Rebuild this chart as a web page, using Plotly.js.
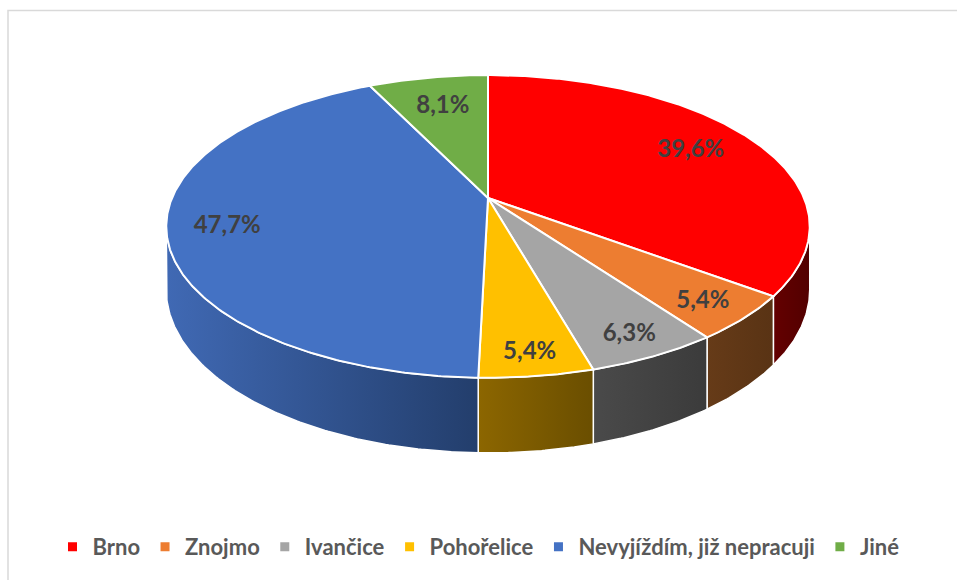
<!DOCTYPE html>
<html><head><meta charset="utf-8">
<script src="https://cdn.plot.ly/plotly-3.0.1.min.js"></script>
<style>html,body{margin:0;padding:0;background:#fff;}</style>
</head><body>
<div id="chart" style="width:957px;height:580px"></div>
<script>
// ---- data ----
const categories = ['Brno','Znojmo','Ivančice','Pohořelice','Nevyjíždím, již nepracuji','Jiné'];
const values = [39.6, 5.4, 6.3, 5.4, 47.7, 8.1];
const valueLabels = ['39,6%','5,4%','6,3%','5,4%','47,7%','8,1%'];
const topColors = ['#FF0000','#ED7D31','#A5A5A5','#FFC000','#4472C4','#70AD47'];
const sideColors = [['#640000','#520000'],['#663b18','#593314'],['#4a4a4a','#3b3b3b'],['#8c6600','#6a4e00'],['#4069b4','#233e6c'],['#3f6a28','#355a22']];

// ---- 3D pie geometry (perspective ellipse) ----
const CX=488, CY=198, A=316, B=146, P=0.188, H=61;
function proj(r, th){
  const X=r*Math.sin(th), Z=r*Math.cos(th), d=1+P*Z;
  return [CX+A*X/d, CY-B*Z/d, d];
}
const total = values.reduce((s,v)=>s+v,0);
const starts=[], ends=[];
let cum=0;
values.forEach(v=>{ starts.push(cum/total*2*Math.PI); cum+=v; ends.push(cum/total*2*Math.PI); });

function arc(t1,t2){
  const n=Math.max(4,Math.ceil((t2-t1)/(Math.PI/360)));
  const pts=[];
  for(let k=0;k<=n;k++){ const t=t1+(t2-t1)*k/n; pts.push(proj(1,t)); }
  return pts;
}

const traces=[];
// side walls (visible front part)
const thR=Math.acos(-P), thL=2*Math.PI-Math.acos(-P);
values.forEach((v,i)=>{
  const a=Math.max(starts[i],thR), b=Math.min(ends[i],thL);
  if(b<=a) return;
  const top=arc(a,b);
  const xs=[],ys=[];
  top.forEach(p=>{xs.push(p[0]);ys.push(p[1]);});
  for(let k=top.length-1;k>=0;k--){ const p=top[k]; xs.push(p[0]); ys.push(p[1]+H/p[2]); }
  xs.push(xs[0]); ys.push(ys[0]);
  traces.push({type:'scatter',mode:'lines',x:xs,y:ys,fill:'toself',
    fillgradient:{type:'horizontal',colorscale:[[0,sideColors[i][0]],[1,sideColors[i][1]]]},
    line:{color:'#ffffff',width:1.5},showlegend:false,hoverinfo:'skip'});
});
// top faces
values.forEach((v,i)=>{
  const pts=arc(starts[i],ends[i]);
  const xs=[CX],ys=[CY];
  pts.forEach(p=>{xs.push(p[0]);ys.push(p[1]);});
  xs.push(CX); ys.push(CY);
  traces.push({type:'scatter',mode:'lines',x:xs,y:ys,fill:'toself',fillcolor:topColors[i],
    line:{color:'#ffffff',width:2},showlegend:false,hoverinfo:'skip'});
});
// data labels
const lx=[],ly=[];
values.forEach((v,i)=>{
  const m=(starts[i]+ends[i])/2;
  const r=0.8-0.08*Math.cos(m);
  const p=proj(r,m);
  lx.push(p[0]); ly.push(p[1]+(Math.cos(m)<0?3:0));
});
traces.push({type:'scatter',mode:'text',x:lx,y:ly,text:valueLabels,textposition:'middle center',
  textfont:{family:'Lato, "Open Sans", sans-serif',size:24,color:'#404040',weight:'bold'},
  showlegend:false,hoverinfo:'skip'});
// legend entries
categories.forEach((c,i)=>{
  traces.push({type:'scatter',mode:'markers',x:[null],y:[null],name:c,
    marker:{symbol:'square',size:9,color:topColors[i]},showlegend:true});
});

const layout={
  width:957,height:580,margin:{l:0,r:0,t:0,b:0},
  paper_bgcolor:'#ffffff',plot_bgcolor:'#ffffff',
  xaxis:{range:[0,957],visible:false,fixedrange:true},
  yaxis:{range:[580,0],visible:false,fixedrange:true},
  hovermode:false,
  showlegend:true,
  legend:{orientation:'h',x:0.5,xanchor:'center',y:1-547/580,yanchor:'middle',
    font:{family:'Lato, "Open Sans", sans-serif',size:22,color:'#595959',weight:'bold'},
    traceorder:'normal',itemwidth:30,bgcolor:'rgba(0,0,0,0)'},
  shapes:[{type:'rect',xref:'paper',yref:'paper',x0:8/957,x1:1.02,y0:-0.05,y1:1-10.5/580,
    line:{color:'#d9d9d9',width:1.5},fillcolor:'rgba(0,0,0,0)'}]
};
Plotly.newPlot('chart',traces,layout,{displayModeBar:false,staticPlot:true});
</script>
</body></html>
